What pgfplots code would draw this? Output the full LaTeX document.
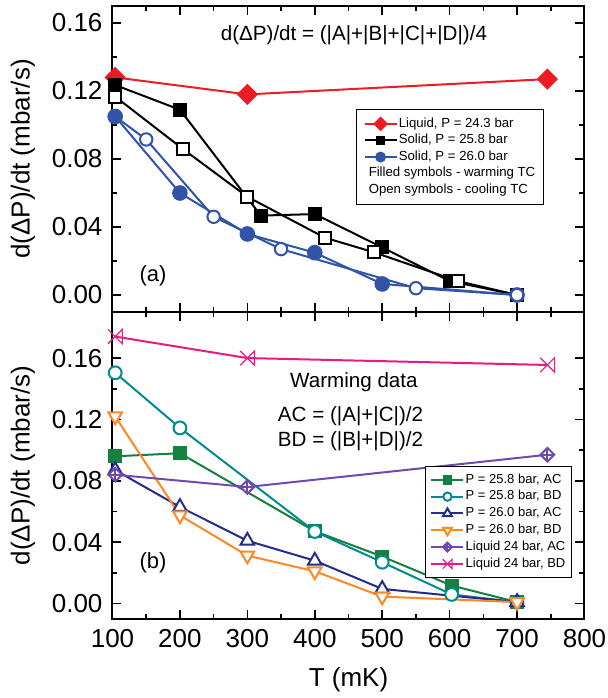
\documentclass[border=0pt]{standalone}
\usepackage{fontspec}
\setmainfont{Liberation Sans}
\usepackage{pgfplots}
\pgfplotsset{compat=1.18}

\definecolor{cred}{RGB}{237,28,36}
\definecolor{cblue}{RGB}{50,84,168}
\definecolor{cgreen}{RGB}{22,128,62}
\definecolor{cteal}{RGB}{0,140,140}
\definecolor{cnavy}{RGB}{36,44,140}
\definecolor{corange}{RGB}{255,136,34}
\definecolor{cpurple}{RGB}{112,72,176}
\definecolor{cpink}{RGB}{232,26,130}

% square diamond (equal width and height)
\pgfdeclareplotmark{sqdiamond*}{%
  \pgfpathmoveto{\pgfqpoint{0pt}{\pgfplotmarksize}}%
  \pgfpathlineto{\pgfqpoint{\pgfplotmarksize}{0pt}}%
  \pgfpathlineto{\pgfqpoint{0pt}{-\pgfplotmarksize}}%
  \pgfpathlineto{\pgfqpoint{-\pgfplotmarksize}{0pt}}%
  \pgfpathclose\pgfusepathqfillstroke}
\pgfdeclareplotmark{diamondplus}{%
  \pgfpathmoveto{\pgfqpoint{0pt}{\pgfplotmarksize}}%
  \pgfpathlineto{\pgfqpoint{\pgfplotmarksize}{0pt}}%
  \pgfpathlineto{\pgfqpoint{0pt}{-\pgfplotmarksize}}%
  \pgfpathlineto{\pgfqpoint{-\pgfplotmarksize}{0pt}}%
  \pgfpathclose\pgfusepathqfillstroke
  \pgfpathmoveto{\pgfqpoint{0pt}{\pgfplotmarksize}}%
  \pgfpathlineto{\pgfqpoint{0pt}{-\pgfplotmarksize}}%
  \pgfpathmoveto{\pgfqpoint{-\pgfplotmarksize}{0pt}}%
  \pgfpathlineto{\pgfqpoint{\pgfplotmarksize}{0pt}}%
  \pgfusepathqstroke}
% X with a bar on its right side
\pgfdeclareplotmark{xbar}{%
  \pgfpathmoveto{\pgfqpoint{-\pgfplotmarksize}{\pgfplotmarksize}}%
  \pgfpathlineto{\pgfqpoint{\pgfplotmarksize}{-\pgfplotmarksize}}%
  \pgfpathlineto{\pgfqpoint{\pgfplotmarksize}{\pgfplotmarksize}}%
  \pgfpathlineto{\pgfqpoint{-\pgfplotmarksize}{-\pgfplotmarksize}}%
  \pgfusepathqstroke}

\pgfplotsset{
  panel/.style={
    scale only axis, width=236pt,
    xmin=100, xmax=800, xtick={100,200,...,800}, minor x tick num=1,
    ytick={0,0.04,0.08,0.12,0.16}, minor y tick num=1,
    scaled y ticks=false,
    /pgf/number format/assume math mode=true,
    tick align=inside, major tick length=4.5pt, minor tick length=2.5pt,
    every tick/.style={black, line width=0.8pt},
    axis line style={line width=1pt},
    tick label style={font=\fontsize{13}{15}\selectfont},
    yticklabel style={/pgf/number format/fixed, /pgf/number format/fixed zerofill,
      /pgf/number format/precision=2, xshift=-1.5pt},
    xticklabel style={yshift=-1.5pt},
    label style={font=\fontsize{13}{15}\selectfont},
    ylabel={d(ΔP)/dt (mbar/s)},
    ylabel style={at={(axis description cs:-0.19,0.5)}, anchor=center},
    legend cell align=left,
    legend image code/.code={
      \draw[mark repeat=2, mark phase=2, ##1, every mark/.append style={scale=0.65}]
        plot coordinates {(0pt,0pt) (8pt,0pt) (16pt,0pt)};},
    every axis plot/.append style={line width=1pt, mark options={solid, line width=0.6pt}},
  },
}

\begin{document}
\begin{tikzpicture}
\path[use as bounding box] (-56.25pt,-39.5pt) rectangle (247.75pt,309.5pt);

% ---------------- panel (a)
\begin{axis}[panel, height=153pt,
  at={(0pt,153.5pt)}, anchor=south west,
  ymin=-0.01, ymax=0.17, xticklabels={},
  legend style={at={(0.516,0.663)}, anchor=north west, draw=black, line width=0.5pt,
    font=\fontsize{6.6}{7}\selectfont, inner xsep=3.5pt, inner ysep=2pt,
    row sep=-2pt, nodes={inner xsep=0.6pt}},
]
\addplot[cred, mark=sqdiamond*, mark size=4.6pt, mark options={fill=cred}]
  coordinates {(104,0.128) (300,0.118) (745,0.127)};
\addlegendentry{Liquid, P = 24.3 bar}
\addplot[black, mark=square*, mark size=3pt, mark options={fill=black}]
  coordinates {(104,0.1235) (200,0.109) (320,0.0467) (400,0.0476) (500,0.028) (600,0.0082) (700,0)};
\addlegendentry{Solid, P = 25.8 bar}
\addplot[black, mark=square*, mark size=3pt, mark options={fill=white}, forget plot]
  coordinates {(104,0.1167) (205,0.0857) (300,0.0578) (415,0.0337) (488,0.0251) (612,0.0082) (700,0)};
\addplot[cblue, mark=*, mark size=3.4pt, mark options={fill=cblue}]
  coordinates {(104,0.105) (200,0.060) (300,0.0359) (400,0.0249) (500,0.0065) (700,0)};
\addlegendentry{Solid, P = 26.0 bar}
\addplot[cblue, mark=*, mark size=3.1pt, mark options={fill=white}, mark indices={2,3,4,5,6}, forget plot]
  coordinates {(104,0.105) (150,0.0915) (250,0.046) (350,0.027) (550,0.004) (700,0)};
\addlegendimage{empty legend}
\addlegendentry{\hspace*{-15pt}Filled symbols - warming TC}
\addlegendimage{empty legend}
\addlegendentry{\hspace*{-15pt}Open symbols - cooling TC}
\node[font=\fontsize{10.3}{12}\selectfont] at (axis cs:458,0.153) {d(ΔP)/dt = (|A|+|B|+|C|+|D|)/4};
\node[font=\fontsize{11}{13}\selectfont] at (axis cs:160,0.0112) {(a)};
\end{axis}

% ---------------- panel (b)
\begin{axis}[panel, height=153.5pt,
  at={(0pt,0pt)}, anchor=south west,
  ymin=-0.01, ymax=0.19,
  xlabel={T (mK)},
  xlabel style={at={(axis description cs:0.5,0)}, anchor=center, yshift=-30.5pt},
  legend style={at={(0.662,0.498)}, anchor=north west, draw=black, line width=0.5pt,
    font=\fontsize{6.5}{7}\selectfont, inner xsep=2.5pt, inner ysep=1.5pt,
    row sep=-1.8pt, nodes={inner xsep=0.6pt}},
]
\addplot[cgreen, mark=square*, mark size=3pt, mark options={fill=cgreen}]
  coordinates {(104,0.096) (200,0.098) (400,0.0472) (500,0.0307) (603,0.0118) (700,0.001)};
\addlegendentry{P = 25.8 bar, AC}
\addplot[cteal, mark=*, mark size=3.2pt, mark options={fill=white}]
  coordinates {(104,0.1504) (200,0.1145) (400,0.047) (500,0.027) (603,0.006) (700,0.001)};
\addlegendentry{P = 25.8 bar, BD}
\addplot[cnavy, mark=triangle*, mark size=3.9pt, mark options={fill=white}]
  coordinates {(104,0.087) (200,0.063) (300,0.041) (400,0.028) (500,0.0096) (700,0.001)};
\addlegendentry{P = 26.0 bar, AC}
\addplot[corange, mark=triangle*, mark size=3.9pt, mark options={fill=white, rotate=180}]
  coordinates {(104,0.122) (200,0.0575) (300,0.0313) (400,0.0211) (500,0.0046) (700,0.001)};
\addlegendentry{P = 26.0 bar, BD}
\addplot[cpurple, mark=diamondplus, mark size=3.4pt, mark options={fill=white}]
  coordinates {(104,0.084) (300,0.076) (745,0.097)};
\addlegendentry{Liquid 24 bar, AC}
\addplot[cpink, mark=xbar, mark size=3.6pt]
  coordinates {(104,0.174) (300,0.160) (745,0.1555)};
\addlegendentry{Liquid 24 bar, BD}
\node[font=\fontsize{10.3}{12}\selectfont] at (axis cs:458,0.1443) {Warming data};
\node[font=\fontsize{10.3}{12}\selectfont] at (axis cs:453,0.1221) {AC = (|A|+|C|)/2};
\node[font=\fontsize{10.3}{12}\selectfont] at (axis cs:453,0.1058) {BD = (|B|+|D|)/2};
\node[font=\fontsize{11}{13}\selectfont] at (axis cs:160,0.0268) {(b)};
\end{axis}
\end{tikzpicture}
\end{document}
